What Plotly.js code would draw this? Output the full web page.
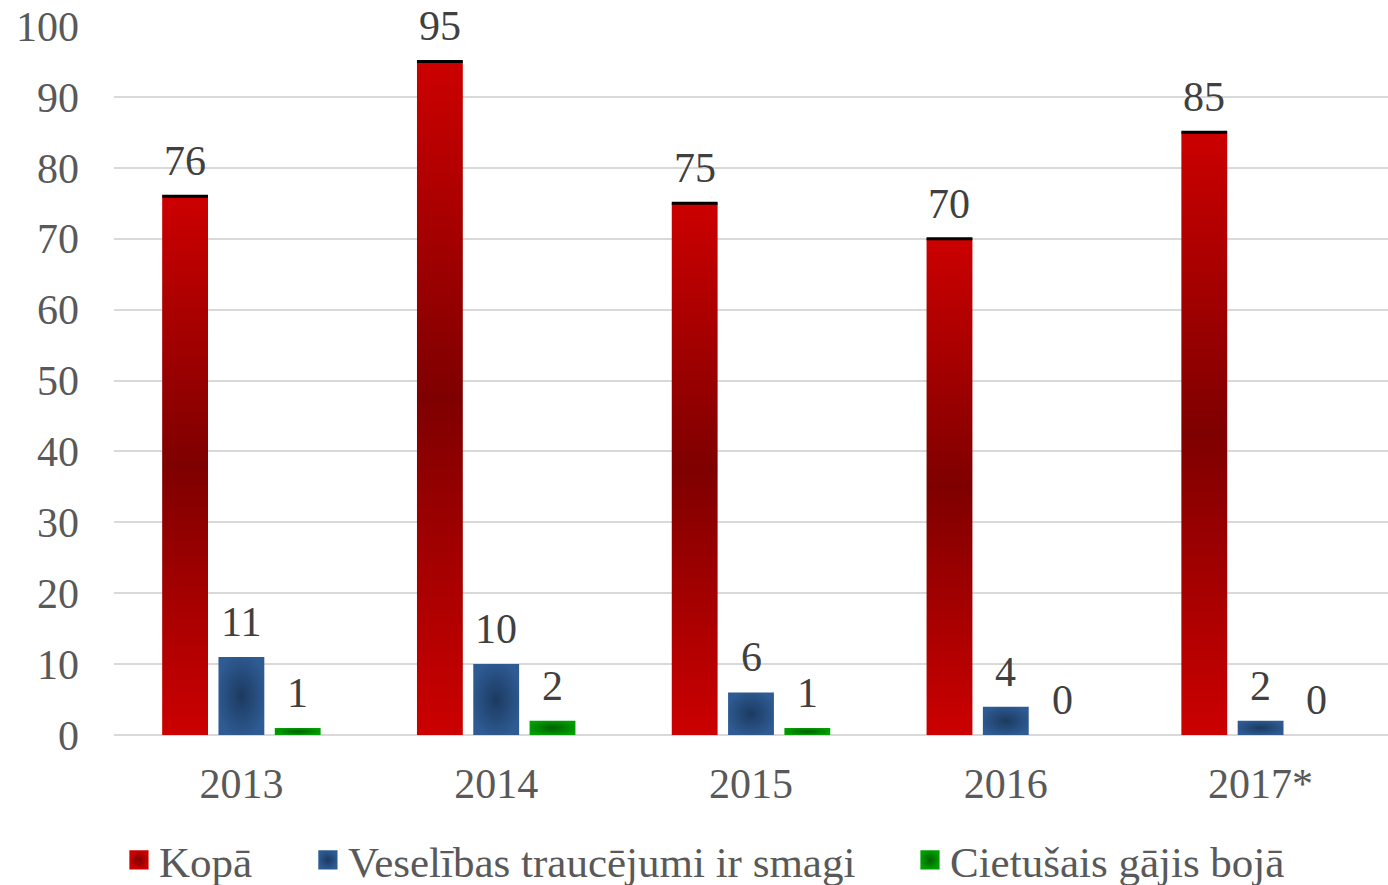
<!DOCTYPE html>
<html>
<head>
<meta charset="utf-8">
<script src="https://cdn.plot.ly/plotly-3.0.1.min.js"></script>
<style>
html,body{margin:0;padding:0;background:#fff;}
#chart{width:1388px;height:885px;}
</style>
</head>
<body>
<div id="chart"></div>
<script>
const years = ["2013", "2014", "2015", "2016", "2017*"];
const seriesNames = ["Kopā", "Veselības traucējumi ir smagi", "Cietušais gājis bojā"];
const kopa = [76, 95, 75, 70, 85];
const smagi = [11, 10, 6, 4, 2];
const boja = [1, 2, 1, 0, 0];
const yTicks = [0, 10, 20, 30, 40, 50, 60, 70, 80, 90, 100];

const edgeColors = ["#cc0000", "#2e5b93", "#00a000"];
const centerColors = ["#7f0000", "#1c3a60", "#005f00"];
const gradIds = ["gRed", "gBlue", "gGreen"];
const allValues = [kopa, smagi, boja];

const FONT = "Liberation Serif, Times New Roman, serif";
const FS = 42;
const LFS = 43;
const BARGAP = 0.337;
const slot = (1 - BARGAP) / allValues.length;

const traces = [];
const annotations = [];
const legendIds = ["legend", "legend2", "legend3"];
allValues.forEach((vals, i) => {
  traces.push({
    type: "bar",
    x: years,
    y: vals,
    name: seriesNames[i],
    showlegend: false,
    marker: {color: edgeColors[i], line: {width: 0}},
    hoverinfo: "skip"
  });
  const off = (i - (allValues.length - 1) / 2) * slot;
  vals.forEach((v, j) => {
    annotations.push({
      x: j + off, y: v, xref: "x", yref: "y",
      text: String(v), showarrow: false,
      xanchor: "center", yanchor: "bottom", yshift: 10,
      font: {family: FONT, size: FS, color: "#404040"}
    });
  });
});
allValues.forEach((vals, i) => {
  traces.push({
    type: "scatter",
    mode: "markers",
    x: [null],
    y: [null],
    name: seriesNames[i],
    showlegend: true,
    legend: legendIds[i],
    marker: {symbol: "square", size: 16, color: edgeColors[i],
             gradient: {type: "radial", color: centerColors[i]}, line: {width: 0}},
    hoverinfo: "skip"
  });
});

const legendBase = {
  orientation: "h",
  y: -0.1763,
  yanchor: "middle",
  xanchor: "left",
  bgcolor: "rgba(0,0,0,0)",
  font: {family: FONT, size: LFS, color: "#595959"},
  itemsizing: "trace"
};
const legendX = [0.0039, 0.1522, 0.6248];

const layout = {
  width: 1388,
  height: 885,
  margin: {l: 114, r: 0, t: 26, b: 150, autoexpand: false},
  paper_bgcolor: "#ffffff",
  plot_bgcolor: "#ffffff",
  barmode: "group",
  bargap: BARGAP,
  bargroupgap: 0.186,
  showlegend: true,
  legend: Object.assign({}, legendBase, {x: legendX[0]}),
  legend2: Object.assign({}, legendBase, {x: legendX[1]}),
  legend3: Object.assign({}, legendBase, {x: legendX[2]}),
  annotations: annotations,
  xaxis: {
    type: "category",
    showgrid: false,
    showline: false,
    zeroline: false,
    ticks: "",
    tickfont: {family: FONT, size: FS, color: "#595959"},
    ticklabelstandoff: 20
  },
  yaxis: {
    range: [0, 100],
    tickvals: yTicks,
    ticktext: yTicks.map(String),
    showgrid: true,
    gridcolor: "#d9d9d9",
    gridwidth: 2,
    zeroline: true,
    zerolinecolor: "#d9d9d9",
    zerolinewidth: 2,
    showline: false,
    ticks: "",
    tickfont: {family: FONT, size: FS, color: "#595959"},
    ticklabelstandoff: 34
  }
};

function addGradients(gd) {
  const svg = gd.querySelector("svg.main-svg");
  const NS = "http://www.w3.org/2000/svg";
  let defs = svg.querySelector("defs");
  if (!defs) { defs = document.createElementNS(NS, "defs"); svg.insertBefore(defs, svg.firstChild); }
  const lg = document.createElementNS(NS, "linearGradient");
  lg.setAttribute("id", gradIds[0]);
  lg.setAttribute("x1", "0"); lg.setAttribute("y1", "0");
  lg.setAttribute("x2", "0"); lg.setAttribute("y2", "1");
  [["0", edgeColors[0]], ["0.5", centerColors[0]], ["1", edgeColors[0]]].forEach(([o, c]) => {
    const s = document.createElementNS(NS, "stop");
    s.setAttribute("offset", o); s.setAttribute("stop-color", c);
    lg.appendChild(s);
  });
  defs.appendChild(lg);
  [1, 2].forEach(i => {
    const rg = document.createElementNS(NS, "radialGradient");
    rg.setAttribute("id", gradIds[i]);
    rg.setAttribute("cx", "0.5"); rg.setAttribute("cy", "0.5"); rg.setAttribute("r", "0.55");
    [["0", centerColors[i]], ["1", edgeColors[i]]].forEach(([o, c]) => {
      const s = document.createElementNS(NS, "stop");
      s.setAttribute("offset", o); s.setAttribute("stop-color", c);
      rg.appendChild(s);
    });
    defs.appendChild(rg);
  });
  const barTraces = gd.querySelectorAll(".barlayer .trace.bars");
  barTraces.forEach((tr, i) => {
    tr.querySelectorAll("g.point path").forEach(p => {
      p.style.fill = "url(#" + gradIds[i] + ")";
      if (i === 0) {
        const b = p.getBBox();
        if (b.height > 0) {
          p.style.stroke = "#000";
          p.style.strokeWidth = "3px";
          p.style.strokeOpacity = "1";
          p.style.strokeDasharray = "0 " + b.height + " " + b.width + " " + (b.height + b.width + 20);
        }
      }
    });
  });
  // enlarge legend squares to match reference size
  gd.querySelectorAll(".legendpoints path.scatterpts").forEach(p => {
    const t = p.getAttribute("transform") || "";
    p.setAttribute("transform", t + " scale(1.2)");
  });
}

Plotly.newPlot("chart", traces, layout, {staticPlot: true, displayModeBar: false}).then(addGradients);
</script>
</body>
</html>
